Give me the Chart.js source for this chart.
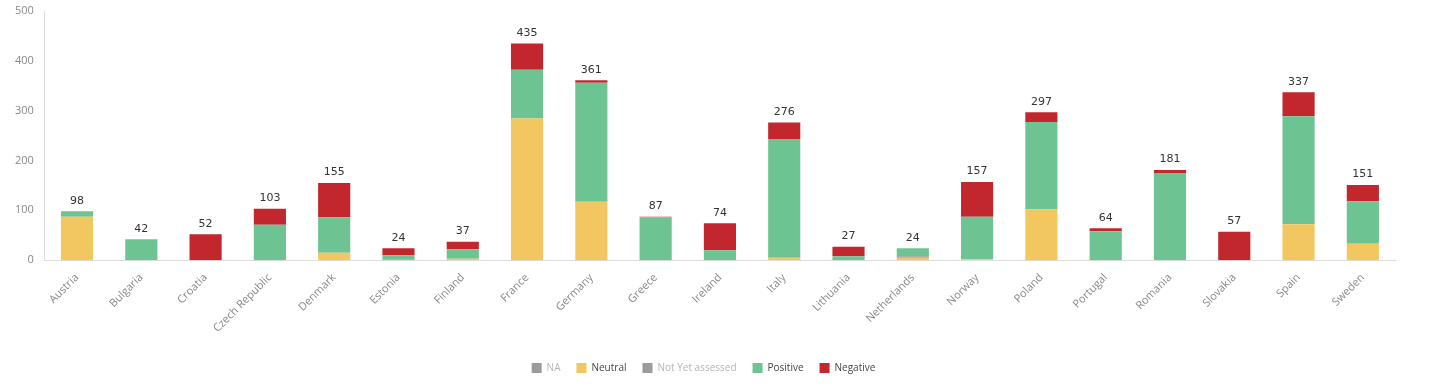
<!DOCTYPE html>
<html>
<head>
<meta charset="utf-8">
<script src="https://cdn.jsdelivr.net/npm/chart.js@4/dist/chart.umd.min.js"></script>
<style>
  html, body { margin: 0; padding: 0; background: #fff; }
  #wrap { width: 1440px; height: 392px; }
</style>
</head>
<body>
<div id="wrap"><canvas id="myChart"></canvas></div>
<script>
const countries = ['Austria', 'Bulgaria', 'Croatia', 'Czech Republic', 'Denmark', 'Estonia', 'Finland',
    'France', 'Germany', 'Greece', 'Ireland', 'Italy', 'Lithuania', 'Netherlands', 'Norway', 'Poland',
    'Portugal', 'Romania', 'Slovakia', 'Spain', 'Sweden'];

const na = [0, 0, 0, 0, 0, 0, 0, 0, 0, 0, 0, 0, 0, 0, 0, 0, 0, 0, 0, 0, 0];
const neutral = [87, 0, 0, 0, 15, 0, 3, 284, 117, 0, 0, 5, 0, 5, 2, 102, 0, 0, 0, 72, 33];
const notYetAssessed = [0, 0, 0, 0, 0, 1, 0, 0, 0, 0, 0, 0, 0, 3, 0, 0, 0, 0, 0, 0, 0];
const positive = [11, 42, 0, 71, 71, 9, 19, 98, 239, 86, 20, 238, 8, 16, 85, 175, 58, 175, 0, 217, 85];
const negative = [0, 0, 52, 32, 69, 14, 15, 53, 5, 1, 54, 33, 19, 0, 70, 20, 6, 6, 57, 48, 33];

const yTicks = [0, 100, 200, 300, 400, 500];

const totals = countries.map((c, i) => na[i] + neutral[i] + notYetAssessed[i] + positive[i] + negative[i]);

const totalLabels = {
    id: 'totalLabels',
    afterDatasetsDraw(chart) {
        let ctx = chart.ctx;
        let x = chart.scales.x;
        let y = chart.scales.y;
        ctx.save();
        ctx.font = '11px "DejaVu Sans"';
        ctx.fillStyle = '#333';
        ctx.textAlign = 'center';
        ctx.textBaseline = 'bottom';
        totals.forEach(function (value, i) {
            ctx.fillText(value, x.getPixelForValue(i), y.getPixelForValue(value) - 5);
        });
        ctx.restore();
    }
};

function dataset(label, data, color) {
    return {
        label: label,
        data: data,
        backgroundColor: color,
        borderColor: color,
        borderWidth: 0,
        barPercentage: 0.5,
        categoryPercentage: 1
    };
}

let graph = document.getElementById('myChart').getContext('2d');

new Chart(graph, {
    type: 'bar',
    data: {
        labels: countries,
        datasets: [
            dataset('NA', na, '#9b9b9b'),
            dataset('Neutral', neutral, '#f3c75f'),
            dataset('Not Yet assessed', notYetAssessed, '#9b9b9b'),
            dataset('Positive', positive, '#6ec393'),
            dataset('Negative', negative, '#c1272d')
        ]
    },
    options: {
        responsive: true,
        maintainAspectRatio: false,
        animation: false,
        layout: { padding: { left: 12, right: 45, top: 11, bottom: 9 } },
        plugins: {
            tooltip: { enabled: false },
            legend: {
                position: 'bottom',
                labels: {
                    boxWidth: 10,
                    boxHeight: 10,
                    padding: 16,
                    font: { family: 'Open Sans', size: 10 },
                    generateLabels(chart) {
                        let items = Chart.defaults.plugins.legend.labels.generateLabels(chart);
                        items.forEach(function (item) {
                            item.fontColor = (item.text === 'NA' || item.text === 'Not Yet assessed') ? '#b5b5b5' : '#444';
                            item.lineWidth = 0;
                        });
                        return items;
                    }
                }
            }
        },
        scales: {
            x: {
                stacked: true,
                grid: { display: false },
                border: { color: '#ddd' },
                afterFit(axis) {
                    axis.height += 9;
                },
                ticks: {
                    color: '#888',
                    font: { family: 'Open Sans', size: 11 },
                    maxRotation: 45,
                    minRotation: 45
                }
            },
            y: {
                stacked: true,
                min: 0,
                max: 500,
                grid: { display: false },
                border: { color: '#ddd' },
                afterBuildTicks(axis) {
                    axis.ticks = yTicks.map(v => ({ value: v }));
                },
                ticks: {
                    color: '#888',
                    padding: 3,
                    font: { family: 'Open Sans', size: 11 }
                }
            }
        }
    },
    plugins: [totalLabels]
});
</script>
</body>
</html>
